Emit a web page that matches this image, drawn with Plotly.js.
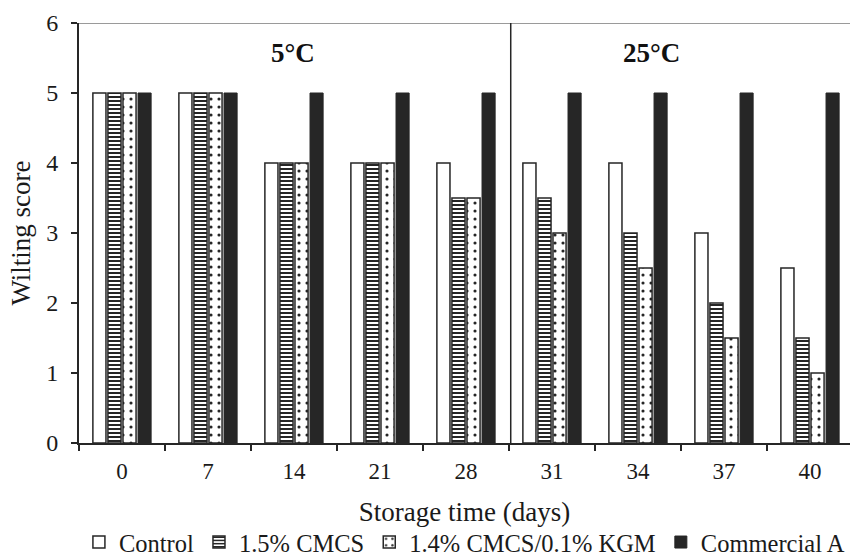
<!DOCTYPE html>
<html>
<head>
<meta charset="utf-8">
<script src="https://cdn.plot.ly/plotly-3.0.1.min.js"></script>
<style>html,body{margin:0;padding:0;background:#fff;}#chart{width:850px;height:559px;}</style>
</head>
<body>
<div id="chart"></div>
<script>
const categories = ["0", "7", "14", "21", "28", "31", "34", "37", "40"];
const seriesNames = ["Control", "1.5% CMCS", "1.4% CMCS/0.1% KGM", "Commercial A"];
const control = [5, 5, 4, 4, 4, 4, 4, 3, 2.5];
const cmcs = [5, 5, 4, 4, 3.5, 3.5, 3, 2, 1.5];
const cmcsKgm = [5, 5, 4, 4, 3.5, 3, 2.5, 1.5, 1];
const commercialA = [5, 5, 5, 5, 5, 5, 5, 5, 5];
const yTicks = [0, 1, 2, 3, 4, 5, 6];
const regionLabels = ["5°C", "25°C"];

const FONT = "Liberation Serif, Times New Roman, serif";
const dark = "#262626";
const txt = "#1a1a1a";

const traces = [
  {type: "bar", name: seriesNames[0], x: categories, y: control,
   marker: {color: "#ffffff", line: {color: dark, width: 1.5}}},
  {type: "bar", name: seriesNames[1], x: categories, y: cmcs,
   marker: {color: "#ffffff", line: {color: dark, width: 1.5},
            pattern: {shape: "-", size: 4, solidity: 0.5, fgcolor: dark, bgcolor: "#ffffff"}}},
  {type: "bar", name: seriesNames[2], x: categories, y: cmcsKgm,
   marker: {color: "#ffffff", line: {color: dark, width: 1.5},
            pattern: {shape: ".", size: 8, solidity: 0.12, fgcolor: dark, bgcolor: "#ffffff"}}},
  {type: "bar", name: seriesNames[3], x: categories, y: commercialA,
   marker: {color: dark, line: {color: dark, width: 1}}}
];

const layout = {
  width: 850, height: 559,
  margin: {l: 79, r: 0, t: 23, b: 116, autoexpand: false},
  paper_bgcolor: "#ffffff", plot_bgcolor: "#ffffff",
  font: {family: FONT, size: 23, color: txt},
  barmode: "group", bargap: 0.3, bargroupgap: 0.13,
  showlegend: true,
  legend: {orientation: "h", x: -0.0001, xanchor: "left", y: -0.236, yanchor: "middle",
           font: {family: FONT, size: 24.5, color: txt}, itemwidth: 30, tracegroupgap: 0,
           bgcolor: "rgba(0,0,0,0)"},
  xaxis: {
    type: "category", range: [-0.5, 8.465],
    showline: true, linecolor: dark, linewidth: 2,
    ticks: "outside", tickson: "boundaries", ticklen: 6, tickwidth: 2, tickcolor: dark,
    ticklabelstandoff: 6,
    showgrid: false, zeroline: false,
    tickfont: {family: FONT, size: 23, color: txt},
    title: {text: "Storage time (days)", font: {family: FONT, size: 27, color: txt}, standoff: 20}
  },
  yaxis: {
    range: [0, 6], tickvals: yTicks,
    showline: true, linecolor: dark, linewidth: 2,
    ticks: "outside", ticklen: 6, tickwidth: 2, tickcolor: dark,
    ticklabelstandoff: 8,
    showgrid: false, zeroline: false,
    tickfont: {family: FONT, size: 24, color: txt},
    title: {text: "Wilting score", font: {family: FONT, size: 27, color: txt}, standoff: 8}
  },
  shapes: [
    {type: "line", xref: "paper", yref: "y", x0: 0, x1: 1, y0: 6, y1: 6,
     line: {color: "#9a9a9a", width: 2}},
    {type: "line", xref: "x", yref: "y", x0: 4.52, x1: 4.52, y0: 0, y1: 6,
     line: {color: dark, width: 1.5}}
  ],
  annotations: [
    {xref: "x", yref: "y", x: 1.99, y: 5.57, text: "<b>" + regionLabels[0] + "</b>", showarrow: false,
     font: {family: FONT, size: 27, color: "#111"}},
    {xref: "x", yref: "y", x: 6.16, y: 5.57, text: "<b>" + regionLabels[1] + "</b>", showarrow: false,
     font: {family: FONT, size: 27, color: "#111"}}
  ]
};

Plotly.newPlot("chart", traces, layout, {displayModeBar: false, staticPlot: true});
</script>
</body>
</html>
